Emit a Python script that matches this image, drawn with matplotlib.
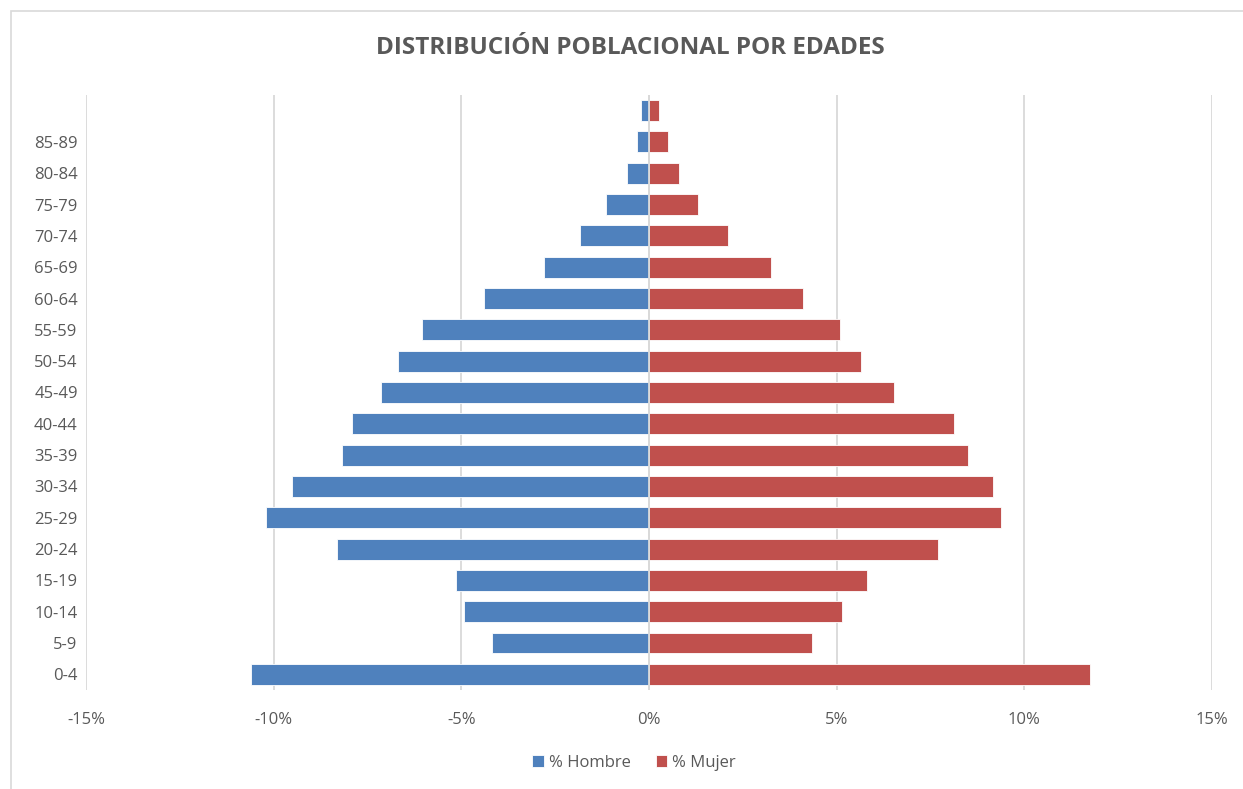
import matplotlib.pyplot as plt
from matplotlib.patches import Rectangle
from matplotlib.ticker import FuncFormatter

edades = ["0-4", "5-9", "10-14", "15-19", "20-24", "25-29", "30-34", "35-39",
          "40-44", "45-49", "50-54", "55-59", "60-64", "65-69", "70-74",
          "75-79", "80-84", "85-89", ""]
hombre = [10.61, 4.18, 4.92, 5.13, 8.30, 10.21, 9.52, 8.19, 7.90, 7.15,
          6.70, 6.04, 4.39, 2.79, 1.84, 1.14, 0.58, 0.32, 0.21]
mujer = [11.76, 4.34, 5.13, 5.80, 7.69, 9.39, 9.18, 8.51, 8.14, 6.54,
         5.66, 5.08, 4.10, 3.24, 2.10, 1.30, 0.80, 0.51, 0.27]

gris = "#595959"
plt.rcParams['font.family'] = ['Open Sans', 'DejaVu Sans']

fig = plt.figure(figsize=(12.43, 7.89), dpi=100)
fig.patches.append(Rectangle((11 / 1243, -0.1), 1.2, 1 - 11 / 789 + 0.1,
                             transform=fig.transFigure, fill=False,
                             edgecolor="#d9d9d9", linewidth=1.2))

ax = fig.add_axes([0.0692, 0.1255, 0.9058, 0.7541])
y = list(range(len(edades)))
ax.barh(y, [-h for h in hombre], height=0.67, color="#4F81BD",
        edgecolor="white", linewidth=0.6, label="% Hombre", zorder=2)
ax.barh(y, mujer, height=0.67, color="#C0504D",
        edgecolor="white", linewidth=0.6, label="% Mujer", zorder=2)

ax.set_xlim(-15, 15)
ax.set_ylim(-0.5, len(edades) - 0.5)
ax.set_xticks(range(-15, 16, 5))
ax.xaxis.set_major_formatter(FuncFormatter(lambda v, p: f"{v:.0f}%"))
ax.set_yticks(y)
ax.set_yticklabels(edades)
ax.grid(axis="x", color="#d9d9d9", linewidth=1.3, zorder=0)
ax.axvline(0, color="#d9d9d9", linewidth=1.3, zorder=3)
for s in ax.spines.values():
    s.set_visible(False)
ax.tick_params(length=0, colors=gris, labelsize=12)
ax.tick_params(axis="x", pad=16)
ax.tick_params(axis="y", pad=6)

fig.text(0.507, 0.939, "DISTRIBUCIÓN POBLACIONAL POR EDADES", ha="center",
         va="center", fontsize=17.5, fontweight="bold", color=gris)

leg = fig.legend(loc="center", bbox_to_anchor=(0.51, 0.033), ncol=2,
                 frameon=False, fontsize=12, handlelength=0.7,
                 handleheight=0.7, handletextpad=0.3, columnspacing=1.5)
for t in leg.get_texts():
    t.set_color(gris)

fig.savefig("out.png", dpi=100)
